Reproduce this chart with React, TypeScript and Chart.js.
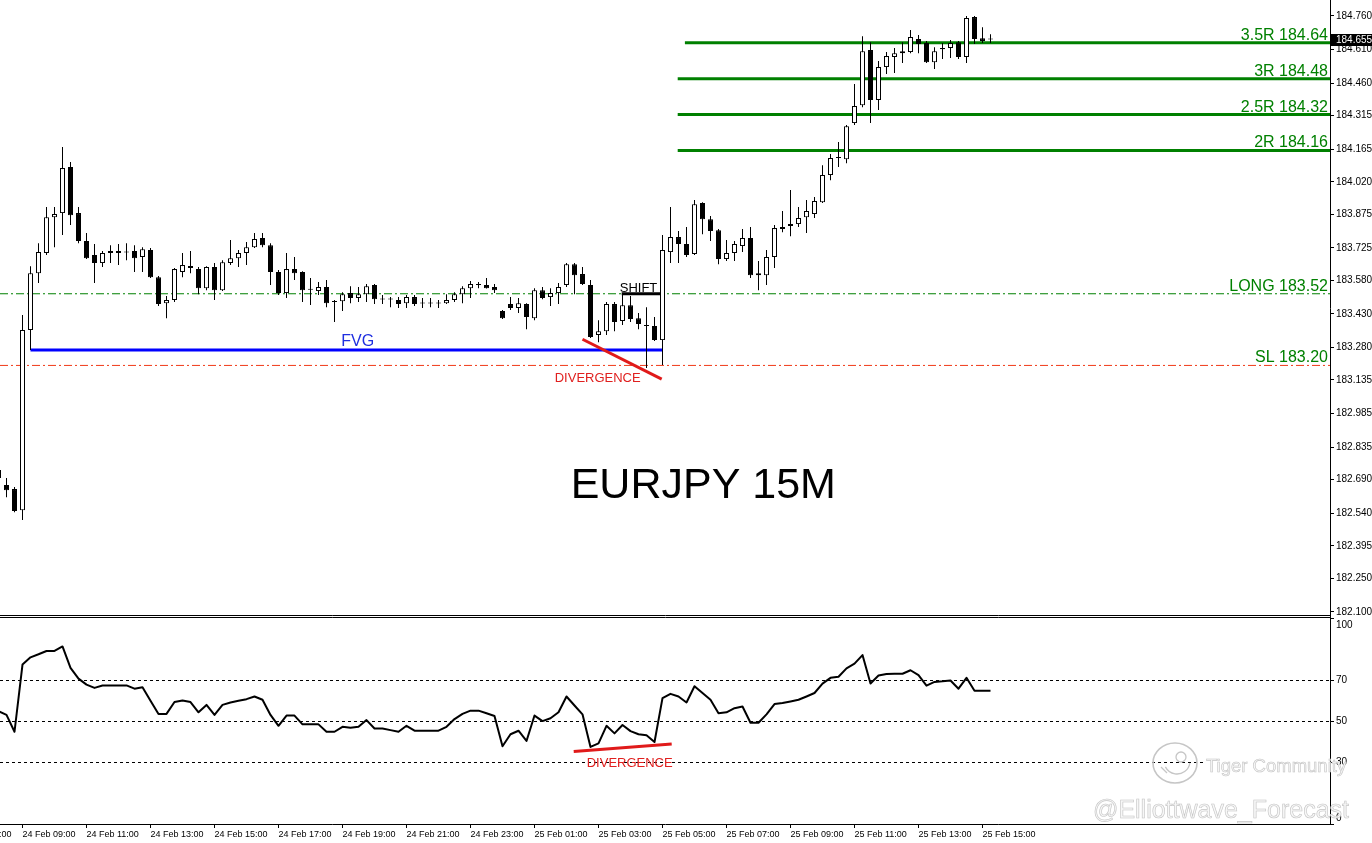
import { useEffect, useRef } from 'react';
import { Chart, registerables } from 'chart.js';

Chart.register(...registerables);

const FONT = "'Liberation Sans', Arial, Helvetica, sans-serif";
Chart.defaults.font.family = FONT;
Chart.defaults.color = '#000000';

// ---------------- data ----------------
const FIRST_BAR = -3; // bar index of the first candle (bar 0 = 24 Feb 09:00, 15-minute bars)

const opens = [
  182.733, 182.666, 182.648, 182.554, 183.358, 183.612, 183.702, 183.862, 183.880, 184.086,
  183.880, 183.755, 183.693, 183.657, 183.702, 183.711, 183.706, 183.711, 183.684, 183.715,
  183.594, 183.478, 183.492, 183.617, 183.644, 183.630, 183.545, 183.639, 183.536, 183.657,
  183.679, 183.702, 183.728, 183.769, 183.737, 183.617, 183.523, 183.630, 183.617, 183.541,
  183.532, 183.550, 183.487, 183.487, 183.523, 183.501, 183.518, 183.559, 183.496, 183.496,
  183.492, 183.478, 183.505, 183.478, 183.476, 183.478, 183.478, 183.492, 183.518, 183.545,
  183.561, 183.559, 183.550, 183.443, 183.474, 183.456, 183.474, 183.411, 183.536, 183.505,
  183.523, 183.559, 183.652, 183.608, 183.559, 183.336, 183.353, 183.474, 183.398, 183.469,
  183.411, 183.380, 183.376, 183.313, 183.706, 183.773, 183.742, 183.697, 183.925, 183.853,
  183.804, 183.675, 183.702, 183.733, 183.769, 183.612, 183.603, 183.684, 183.809, 183.822,
  183.831, 183.862, 183.876, 183.929, 184.050, 184.126, 184.121, 184.282, 184.362, 184.608,
  184.385, 184.532, 184.577, 184.603, 184.599, 184.657, 184.639, 184.554, 184.612, 184.617,
  184.643, 184.577, 184.755, 184.661, 184.655,
];
const highs = [
  182.764, 182.697, 182.657, 183.425, 183.643, 183.746, 183.907, 183.907, 184.175, 184.108,
  183.907, 183.791, 183.742, 183.711, 183.737, 183.742, 183.746, 183.737, 183.728, 183.724,
  183.599, 183.510, 183.635, 183.702, 183.711, 183.639, 183.643, 183.657, 183.670, 183.760,
  183.715, 183.751, 183.791, 183.791, 183.746, 183.626, 183.702, 183.684, 183.621, 183.590,
  183.572, 183.581, 183.492, 183.527, 183.554, 183.550, 183.563, 183.563, 183.514, 183.505,
  183.505, 183.514, 183.514, 183.501, 183.501, 183.492, 183.518, 183.527, 183.554, 183.577,
  183.572, 183.590, 183.563, 183.447, 183.505, 183.501, 183.478, 183.545, 183.550, 183.545,
  183.568, 183.657, 183.657, 183.639, 183.581, 183.402, 183.483, 183.483, 183.523, 183.510,
  183.434, 183.460, 183.416, 183.782, 183.907, 183.800, 183.818, 183.938, 183.929, 183.867,
  183.809, 183.760, 183.755, 183.809, 183.818, 183.666, 183.715, 183.827, 183.889, 183.983,
  183.907, 183.938, 183.952, 184.094, 184.144, 184.197, 184.273, 184.456, 184.670, 184.643,
  184.559, 184.599, 184.617, 184.643, 184.697, 184.675, 184.648, 184.621, 184.639, 184.653,
  184.648, 184.760, 184.760, 184.710, 184.679,
];
const lows = [
  182.666, 182.612, 182.545, 182.510, 183.269, 183.568, 183.693, 183.728, 183.782, 183.827,
  183.746, 183.675, 183.568, 183.639, 183.657, 183.648, 183.670, 183.617, 183.617, 183.590,
  183.465, 183.411, 183.483, 183.594, 183.612, 183.518, 183.536, 183.492, 183.532, 183.648,
  183.639, 183.648, 183.724, 183.728, 183.559, 183.514, 183.501, 183.581, 183.483, 183.470,
  183.514, 183.460, 183.394, 183.443, 183.478, 183.483, 183.483, 183.474, 183.474, 183.460,
  183.456, 183.456, 183.465, 183.456, 183.460, 183.456, 183.474, 183.483, 183.478, 183.501,
  183.545, 183.543, 183.523, 183.407, 183.447, 183.434, 183.362, 183.402, 183.496, 183.465,
  183.474, 183.550, 183.518, 183.559, 183.322, 183.304, 183.336, 183.353, 183.380, 183.394,
  183.362, 183.188, 183.309, 183.202, 183.657, 183.657, 183.684, 183.693, 183.786, 183.755,
  183.652, 183.666, 183.666, 183.706, 183.590, 183.536, 183.559, 183.635, 183.795, 183.777,
  183.818, 183.791, 183.858, 183.925, 184.027, 184.086, 184.103, 184.273, 184.353, 184.282,
  184.340, 184.501, 184.505, 184.550, 184.594, 184.594, 184.550, 184.523, 184.568, 184.572,
  184.568, 184.550, 184.635, 184.639, 184.639,
];
const closes = [
  182.697, 182.643, 182.550, 183.358, 183.612, 183.706, 183.862, 183.876, 184.081, 183.871,
  183.755, 183.679, 183.657, 183.702, 183.711, 183.702, 183.704, 183.679, 183.719, 183.594,
  183.474, 183.492, 183.630, 183.648, 183.635, 183.545, 183.639, 183.536, 183.661, 183.679,
  183.702, 183.728, 183.764, 183.737, 183.617, 183.523, 183.630, 183.612, 183.536, 183.538,
  183.550, 183.478, 183.483, 183.518, 183.501, 183.518, 183.554, 183.496, 183.494, 183.494,
  183.474, 183.505, 183.474, 183.476, 183.478, 183.476, 183.492, 183.518, 183.545, 183.563,
  183.559, 183.545, 183.536, 183.411, 183.456, 183.478, 183.416, 183.536, 183.501, 183.523,
  183.550, 183.652, 183.603, 183.563, 183.327, 183.353, 183.474, 183.394, 183.469, 183.407,
  183.385, 183.376, 183.313, 183.715, 183.773, 183.742, 183.693, 183.920, 183.853, 183.800,
  183.675, 183.702, 183.742, 183.769, 183.603, 183.603, 183.684, 183.813, 183.818, 183.831,
  183.858, 183.889, 183.934, 184.050, 184.126, 184.128, 184.268, 184.358, 184.603, 184.385,
  184.532, 184.581, 184.594, 184.594, 184.666, 184.635, 184.554, 184.603, 184.617, 184.639,
  184.577, 184.751, 184.657, 184.648, 184.655,
];
const rsiValues = [
  55.0, 53.2, 45.0, 77.8, 81.3, 82.8, 84.4, 84.4, 86.6, 76.2,
  70.9, 68.0, 66.4, 67.6, 67.6, 67.6, 67.6, 66.0, 66.7, 60.1,
  53.7, 53.7, 59.5, 60.2, 59.5, 54.5, 58.1, 53.2, 58.1, 59.3,
  60.1, 60.9, 62.2, 60.6, 53.2, 47.9, 52.9, 52.9, 48.6, 48.6,
  48.6, 45.0, 45.0, 47.4, 46.9, 47.4, 50.7, 46.6, 46.6, 45.8,
  45.0, 47.9, 45.5, 45.5, 45.5, 45.5, 47.4, 51.2, 53.7, 55.3,
  55.3, 54.0, 52.7, 37.9, 43.8, 45.5, 40.5, 52.9, 50.2, 51.6,
  54.5, 62.2, 57.8, 53.5, 37.6, 39.3, 47.9, 44.2, 48.3, 45.3,
  43.8, 43.3, 40.0, 61.4, 63.5, 62.2, 59.3, 67.2, 63.9, 60.6,
  54.0, 54.5, 56.5, 57.3, 49.4, 49.4, 53.5, 58.5, 59.0, 59.8,
  60.6, 62.2, 63.9, 68.5, 71.3, 71.8, 75.9, 78.2, 82.4, 68.5,
  72.4, 73.2, 73.3, 73.3, 75.0, 72.6, 67.5, 69.3, 69.6, 70.0,
  66.0, 71.3, 65.0, 65.0, 65.0,
];

const timeTickBars = [-8, 0, 8, 16, 24, 32, 40, 48, 56, 64, 72, 80, 88, 96, 104, 112, 120];
const timeLabels = [
  '24 Feb 07:00', '24 Feb 09:00', '24 Feb 11:00', '24 Feb 13:00', '24 Feb 15:00', '24 Feb 17:00',
  '24 Feb 19:00', '24 Feb 21:00', '24 Feb 23:00', '25 Feb 01:00', '25 Feb 03:00', '25 Feb 05:00',
  '25 Feb 07:00', '25 Feb 09:00', '25 Feb 11:00', '25 Feb 13:00', '25 Feb 15:00',
];
const priceTicks = [
  184.76, 184.61, 184.46, 184.315, 184.165, 184.02, 183.875, 183.725, 183.58, 183.43,
  183.28, 183.135, 182.985, 182.835, 182.69, 182.54, 182.395, 182.25, 182.1,
];
const rsiTicks = [0, 30, 50, 70, 100];
const rsiLevels = [70, 50, 30];

const targetLabels = ['3.5R 184.64', '3R 184.48', '2.5R 184.32', '2R 184.16'];
const targetPrices = [184.64, 184.48, 184.32, 184.16];
const targetStartBars = [82.8, 81.9, 81.9, 81.9];
const entryLabel = 'LONG 183.52';
const entryPrice = 183.52;
const stopLabel = 'SL 183.20';
const stopPrice = 183.2;
const fvgPrice = 183.269;
const fvgBars = [1, 80];
const shiftPrice = 183.52;
const shiftBars = [74.9, 79.8];
const divPriceBars = [70, 79.9];
const divPrices = [183.317, 183.139];
const divRsiBars = [68.9, 81.15];
const divRsi = [35.4, 39.0];

const noteTexts = ['FVG', 'SHIFT', 'DIVERGENCE', 'EURJPY 15M'];
const noteBars = [41.9, 77, 71.9, 85.1];
const notePrices = [183.305, 183.543, 183.144, 182.662];
const rsiNoteText = 'DIVERGENCE';
const rsiNoteBar = 75.9;
const rsiNoteValue = 29.5;

// ---------------- axis ranges & styles ----------------
const X_MIN = -2.8125;
const X_MAX = 163.4375;
const PRICE_MIN = 182.0814;
const PRICE_MAX = 184.8314;
const RSI_MIN = 0;
const RSI_MAX = 101.463;

const GREEN = '#008000';
const RED = '#e01a1a';
const SL_RED = '#f03a18';
const BLUE = '#0000ff';
const noteStyles = [
  { color: '#1f2fe0', size: 16 },
  { color: '#000000', size: 13 },
  { color: '#e0201f', size: 13 },
  { color: '#000000', size: 43 },
];

const barIndex = opens.map((_, k) => FIRST_BAR + k);

function hLine(x0: number, x1: number, y: number, color: string, width: number, dash: number[], order: number) {
  return {
    type: 'line',
    data: [{ x: x0, y }, { x: x1, y }],
    borderColor: color,
    borderWidth: width,
    borderDash: dash,
    pointRadius: 0,
    fill: false,
    tension: 0,
    order,
  };
}

function segLine(xs: number[], ys: number[], color: string, width: number, order: number) {
  return {
    type: 'line',
    data: xs.map((x, k) => ({ x, y: ys[k] })),
    borderColor: color,
    borderWidth: width,
    pointRadius: 0,
    fill: false,
    tension: 0,
    order,
  };
}

const mainPlugin = {
  id: 'mainNotes',
  afterDatasetsDraw(chart: any) {
    const { ctx, chartArea, scales } = chart;
    const xs = scales.x;
    const ys = scales.y;
    ctx.save();
    ctx.font = `16px ${FONT}`;
    ctx.fillStyle = GREEN;
    ctx.textAlign = 'right';
    ctx.textBaseline = 'alphabetic';
    const lbls = [...targetLabels, entryLabel, stopLabel];
    const prs = [...targetPrices, entryPrice, stopPrice];
    lbls.forEach((t, k) => ctx.fillText(t, chartArea.right - 2, ys.getPixelForValue(prs[k]) - 3));
    noteTexts.forEach((t, k) => {
      ctx.font = `${noteStyles[k].size}px ${FONT}`;
      ctx.fillStyle = noteStyles[k].color;
      ctx.textAlign = 'center';
      ctx.textBaseline = 'middle';
      ctx.fillText(t, xs.getPixelForValue(noteBars[k]), ys.getPixelForValue(notePrices[k]));
    });
    ctx.restore();
  },
  afterDraw(chart: any) {
    const { ctx, chartArea, scales } = chart;
    ctx.save();
    ctx.strokeStyle = '#000';
    ctx.lineWidth = 1;
    ctx.beginPath();
    ctx.moveTo(0, chartArea.bottom - 0.5);
    ctx.lineTo(chartArea.right + 1, chartArea.bottom - 0.5);
    ctx.stroke();
    const last = closes[closes.length - 1];
    const y = Math.round(scales.y.getPixelForValue(last));
    ctx.fillStyle = '#000';
    ctx.fillRect(chartArea.right + 1, y - 6, 41, 12);
    ctx.fillStyle = '#fff';
    ctx.font = `10px ${FONT}`;
    ctx.textAlign = 'left';
    ctx.textBaseline = 'middle';
    ctx.fillText(last.toFixed(3), chartArea.right + 6, y);
    ctx.restore();
  },
};

const rsiPlugin = {
  id: 'rsiNotes',
  afterDatasetsDraw(chart: any) {
    const { ctx, scales } = chart;
    ctx.save();
    ctx.font = `13px ${FONT}`;
    ctx.fillStyle = '#e0201f';
    ctx.textAlign = 'center';
    ctx.textBaseline = 'middle';
    ctx.fillText(rsiNoteText, scales.x.getPixelForValue(rsiNoteBar), scales.y.getPixelForValue(rsiNoteValue));
    ctx.restore();
  },
  afterDraw(chart: any) {
    const { ctx, chartArea } = chart;
    const r = chartArea.right;
    const b = chartArea.bottom;
    ctx.save();
    ctx.strokeStyle = '#000';
    ctx.lineWidth = 1;
    ctx.beginPath();
    ctx.moveTo(0, chartArea.top + 1.5);
    ctx.lineTo(r + 1, chartArea.top + 1.5);
    ctx.stroke();
    // watermark
    ctx.fillStyle = '#ffffff';
    ctx.fillRect(r - 127, b - 66, 126, 14);
    const cx = r - 155;
    const cy = b - 61;
    ctx.strokeStyle = '#c6c6c6';
    ctx.lineWidth = 1.6;
    ctx.beginPath();
    ctx.ellipse(cx, cy, 22, 20, 0, 0, Math.PI * 2);
    ctx.stroke();
    ctx.lineWidth = 1.3;
    ctx.beginPath();
    ctx.arc(cx + 2, cy - 2, 13, 0.05 * Math.PI, 0.85 * Math.PI);
    ctx.stroke();
    ctx.beginPath();
    ctx.arc(cx + 6, cy - 6, 5, 0, Math.PI * 2);
    ctx.stroke();
    ctx.beginPath();
    ctx.moveTo(cx - 14, cy + 4);
    ctx.lineTo(cx - 8, cy + 10);
    ctx.stroke();
    ctx.textAlign = 'left';
    ctx.textBaseline = 'alphabetic';
    ctx.lineWidth = 0.6;
    ctx.strokeStyle = '#c4c4c4';
    ctx.fillStyle = '#f7f7f7';
    ctx.font = `18.5px ${FONT}`;
    ctx.fillText('Tiger Community', r - 124, b - 52);
    ctx.strokeText('Tiger Community', r - 124, b - 52);
    ctx.font = `25px ${FONT}`;
    ctx.fillText('@Elliottwave_Forecast', r - 237, b - 6);
    ctx.strokeText('@Elliottwave_Forecast', r - 237, b - 6);
    ctx.restore();
  },
};

function mainConfig(): any {
  const bodyData = barIndex.map((x, k) => ({
    x,
    y: [Math.min(opens[k], closes[k]), Math.max(opens[k], closes[k])],
  }));
  const wickData = barIndex.map((x, k) => ({ x, y: [lows[k], highs[k]] }));
  const bodyColors = opens.map((o, k) => (closes[k] >= o ? '#ffffff' : '#000000'));
  const datasets: any[] = [
    segLine(divPriceBars, divPrices, RED, 3, 0),
    {
      type: 'bar',
      data: bodyData,
      backgroundColor: bodyColors,
      borderColor: '#000000',
      borderWidth: 1,
      borderSkipped: false,
      barThickness: 5,
      maxBarThickness: 5,
      grouped: false,
      minBarLength: 1,
      inflateAmount: 0,
      order: 1,
    },
    {
      type: 'bar',
      data: wickData,
      backgroundColor: '#000000',
      borderWidth: 0,
      barThickness: 1,
      maxBarThickness: 1,
      grouped: false,
      inflateAmount: 0,
      order: 2,
    },
    ...targetPrices.map((p, k) => hLine(targetStartBars[k], X_MAX, p, GREEN, 3, [], 5)),
    hLine(X_MIN, X_MAX, entryPrice, GREEN, 1, [8, 3, 2, 3], 6),
    hLine(X_MIN, X_MAX, stopPrice, SL_RED, 1, [8, 3, 2, 3], 6),
    hLine(fvgBars[0], fvgBars[1], fvgPrice, BLUE, 3, [], 4),
    hLine(shiftBars[0], shiftBars[1], shiftPrice, '#000000', 3, [], 4),
  ];
  return {
    type: 'bar',
    data: { datasets },
    options: {
      responsive: false,
      animation: false,
      devicePixelRatio: 1,
      events: [],
      layout: { padding: 0, autoPadding: false },
      plugins: { legend: { display: false }, tooltip: { enabled: false } },
      scales: {
        x: { type: 'linear', display: false, min: X_MIN, max: X_MAX, offset: false, bounds: 'data' },
        y: {
          type: 'linear',
          position: 'right',
          min: PRICE_MIN,
          max: PRICE_MAX,
          beginAtZero: false,
          bounds: 'data',
          afterBuildTicks: (s: any) => {
            s.ticks = priceTicks.map((v) => ({ value: v }));
          },
          afterFit: (s: any) => {
            s.width = 42;
            s.paddingTop = 0;
            s.paddingBottom = 0;
          },
          ticks: {
            callback: (v: any) => Number(v).toFixed(3),
            font: { size: 10, family: FONT },
            color: '#000000',
            padding: 2,
            autoSkip: false,
          },
          grid: { drawOnChartArea: false, drawTicks: true, tickLength: 4, color: '#000000' },
          border: { display: true, color: '#000000', width: 1 },
        },
      },
    },
    plugins: [mainPlugin],
  };
}

function rsiConfig(): any {
  const datasets: any[] = [
    segLine(divRsiBars, divRsi, RED, 3, 0),
    {
      type: 'line',
      data: barIndex.map((x, k) => ({ x, y: rsiValues[k] })),
      borderColor: '#000000',
      borderWidth: 2,
      pointRadius: 0,
      tension: 0,
      fill: false,
      borderJoinStyle: 'round',
      order: 1,
    },
    ...rsiLevels.map((v) => hLine(X_MIN, X_MAX, v, '#000000', 1, [3, 3], 3)),
  ];
  return {
    type: 'line',
    data: { datasets },
    options: {
      responsive: false,
      animation: false,
      devicePixelRatio: 1,
      events: [],
      layout: { padding: 0, autoPadding: false },
      plugins: { legend: { display: false }, tooltip: { enabled: false } },
      scales: {
        x: {
          type: 'linear',
          position: 'bottom',
          min: X_MIN,
          max: X_MAX,
          offset: false,
          bounds: 'data',
          afterBuildTicks: (s: any) => {
            s.ticks = timeTickBars.map((v) => ({ value: v }));
          },
          afterFit: (s: any) => {
            s.height = 19;
            s.paddingLeft = 0;
            s.paddingRight = 0;
          },
          ticks: {
            callback: (v: any) => timeLabels[timeTickBars.indexOf(Number(v))],
            autoSkip: false,
            maxRotation: 0,
            minRotation: 0,
            align: 'start',
            font: { size: 9, family: FONT },
            color: '#000000',
            padding: 1,
          },
          grid: { drawOnChartArea: false, drawTicks: true, tickLength: 4, color: '#000000' },
          border: { display: true, color: '#000000', width: 1 },
        },
        y: {
          type: 'linear',
          position: 'right',
          min: RSI_MIN,
          max: RSI_MAX,
          beginAtZero: false,
          bounds: 'data',
          afterBuildTicks: (s: any) => {
            s.ticks = rsiTicks.map((v) => ({ value: v }));
          },
          afterFit: (s: any) => {
            s.width = 42;
            s.paddingTop = 0;
            s.paddingBottom = 0;
          },
          ticks: {
            callback: (v: any) => {
              const n = Number(v);
              if (n === 100) return ['', '100'];
              if (n === 0) return ['0', ''];
              return String(n);
            },
            font: { size: 10, family: FONT },
            color: '#000000',
            padding: 2,
            autoSkip: false,
          },
          grid: { drawOnChartArea: false, drawTicks: true, tickLength: 4, color: '#000000' },
          border: { display: true, color: '#000000', width: 1 },
        },
      },
    },
    plugins: [rsiPlugin],
  };
}

export default function App() {
  const mainRef = useRef<HTMLCanvasElement>(null);
  const rsiRef = useRef<HTMLCanvasElement>(null);

  useEffect(() => {
    const main = new Chart(mainRef.current as HTMLCanvasElement, mainConfig());
    const rsi = new Chart(rsiRef.current as HTMLCanvasElement, rsiConfig());
    return () => {
      main.destroy();
      rsi.destroy();
    };
  }, []);

  return (
    <div
      style={{
        position: 'fixed',
        left: 0,
        top: 0,
        width: 1372,
        height: 843,
        background: '#ffffff',
        overflow: 'hidden',
      }}
    >
      <canvas
        ref={mainRef}
        width={1372}
        height={616}
        style={{ position: 'absolute', left: 0, top: 0, width: 1372, height: 616 }}
      />
      <canvas
        ref={rsiRef}
        width={1372}
        height={227}
        style={{ position: 'absolute', left: 0, top: 616, width: 1372, height: 227 }}
      />
    </div>
  );
}
